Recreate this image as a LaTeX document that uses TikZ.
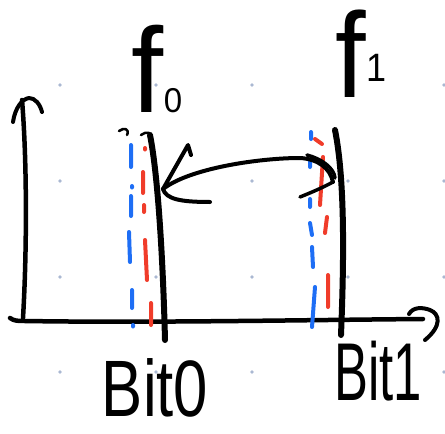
\documentclass[tikz,border=0pt]{standalone}
\usepackage{fontspec}
\setmainfont{Liberation Sans}
\definecolor{penblue}{HTML}{1E6EF5}
\definecolor{penred}{HTML}{F03C2A}
\definecolor{dotc}{HTML}{AAB8D2}
\tikzset{
  ink/.style={line width=#1, line cap=round, line join=round, draw=black},
  ink/.default=5pt,
  bluepen/.style={line width=4pt, line cap=round, draw=penblue},
  redpen/.style={line width=4pt, line cap=round, draw=penred},
  lbl/.style={inner sep=0pt, anchor=base}
}
\begin{document}
\begin{tikzpicture}[x=1pt,y=-1pt]
\useasboundingbox (0,0) rectangle (445,434);
% dot grid
\foreach \gx in {60,156,252,348,444}
  \foreach \gy in {85,181,277,372}
    \fill[dotc] (\gx,\gy) circle (1.9);
% axes
\draw[ink=4.5pt] (23,318) .. controls (27,250) and (27,160) .. (22,100);
\draw[ink=4pt] (13,122) .. controls (15,108) and (22,99) .. (29,98) .. controls (35,98) and (40,104) .. (42,112);
\draw[ink=4.5pt] (10,318) .. controls (14,321) and (18,321) .. (25,321) .. controls (150,323) and (300,320) .. (423,319);
\draw[ink=4pt] (409,314) .. controls (413,307) and (422,307) .. (430,310) .. controls (440,314) and (442,326) .. (425,340);
% blue dashed (left)
\draw[bluepen] (131,145)--(131,167) (132,186)--(132,187.5) (131,196)--(131,216)
  (129,232)--(130,262) (132,290)--(132,308) (133,325)--(133,326.5);
% red dashed (left)
\draw[redpen] (145,148)--(145,149.5) (143,172)--(143,193) (144,205)--(144,212)
  (145,240)--(147,280) (151,303)--(151,325);
% small marks at top of f0
\draw[ink=2.5pt] (119,131) .. controls (124,127) and (130,129) .. (127,135);
\draw[ink=2.5pt] (141,135) .. controls (146,131) and (153,132) .. (150,138);
% blue dashed (right)
\draw[bluepen] (311,132)--(311,139) (310,160)--(310,167) (310,199)--(310,207)
  (310,223)--(312,235) (312,247)--(313,267) (315,287)--(312,327);
% red dashed (right)
\draw[redpen] (315,139)--(322,144) (323,157)--(320,205) (327,217)--(325,233)
  (328,275)--(328,307);
% frequency lines
\draw[ink=6pt] (150,135) .. controls (158,175) and (163,260) .. (165,340);
\draw[ink=6pt] (335,130) .. controls (345,180) and (344,260) .. (341,335);
% double arrow
\coordinate (tipL) at (163,189);
\coordinate (tipR) at (333,182);
\draw[ink=4pt] (tipL) .. controls (190,168) and (260,158) .. (300,158)
  .. controls (318,159) and (330,168) .. (tipR);
\draw[ink=3.5pt] (307,155) .. controls (322,159) and (334,168) .. (335,178);
\draw[ink=3.5pt] (tipR) .. controls (322,188) and (310,193) .. (300,197);
\draw[ink=4pt] (tipL) -- (188,145) -- (191,155);
\draw[ink=4pt] (tipL) .. controls (166,199) and (180,202) .. (210,202);
% labels
\node[lbl, font=\fontsize{105}{105}\selectfont, yscale=1.15, xscale=1.1] (f0) at (157,112) {f{\fontsize{30}{30}\selectfont 0}};
\node[lbl, font=\fontsize{110}{110}\selectfont, yscale=1.1] (f1) at (361,97) {f\raisebox{14pt}{\fontsize{36}{36}\selectfont 1}};
\node[lbl, font=\fontsize{80}{80}\selectfont, xscale=0.77] (b0) at (155,416) {Bit0};
\node[lbl, font=\fontsize{82}{82}\selectfont, xscale=0.62] (b1) at (378,400) {Bit1};
\end{tikzpicture}
\end{document}
